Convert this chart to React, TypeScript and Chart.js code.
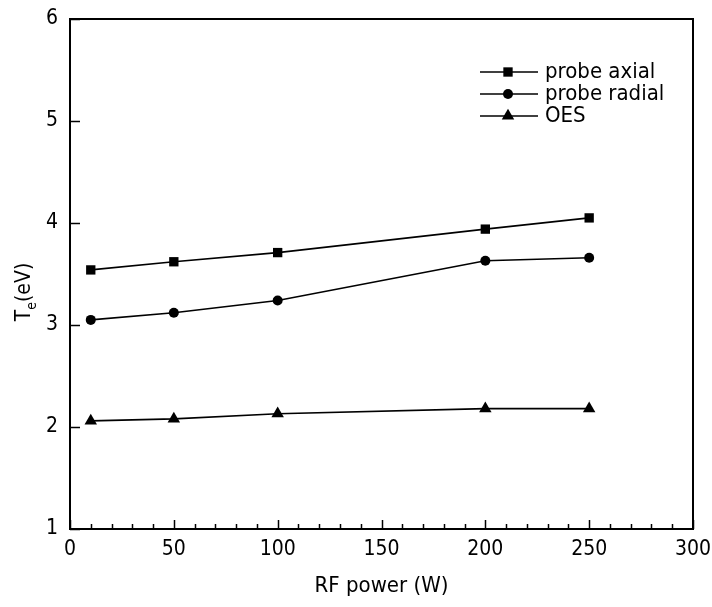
import React, { useEffect, useRef } from "react";
import { Chart, registerables } from "chart.js";

Chart.register(...registerables);

const rfPower = [10, 50, 100, 200, 250];
const probeAxial = [3.54, 3.62, 3.71, 3.94, 4.05];
const probeRadial = [3.05, 3.12, 3.24, 3.63, 3.66];
const oes = [2.06, 2.08, 2.13, 2.18, 2.18];
const seriesNames = ["probe axial", "probe radial", "OES"];
const xTitle = "RF power (W)";
const yTitleMain = "T";
const yTitleSub = "e";
const yTitleRest = "(eV)";

const FONT = "'DejaVu Sans Condensed', 'DejaVu Sans', sans-serif";

function drawMarker(ctx: CanvasRenderingContext2D, style: string, r: number, x: number, y: number) {
  ctx.beginPath();
  if (style === "rect") {
    const s = Math.SQRT1_2 * r;
    ctx.rect(x - s, y - s, 2 * s, 2 * s);
  } else if (style === "circle") {
    ctx.arc(x, y, r, 0, Math.PI * 2);
  } else {
    const h = r * 0.5;
    ctx.moveTo(x, y - r);
    ctx.lineTo(x + r * Math.sin(Math.PI * 2 / 3), y + h);
    ctx.lineTo(x - r * Math.sin(Math.PI * 2 / 3), y + h);
    ctx.closePath();
  }
  ctx.fill();
}

const frameTicks = {
  id: "frameTicks",
  afterDraw(chart: any) {
    const { ctx, chartArea: a, scales } = chart;
    const xs = scales.x;
    const ys = scales.y;
    ctx.save();
    ctx.strokeStyle = "#000";
    ctx.lineWidth = 2;
    ctx.strokeRect(a.left, a.top, a.right - a.left, a.bottom - a.top);
    ctx.lineWidth = 1.5;
    for (let v = xs.min; v <= xs.max; v += 10) {
      const px = Math.round(xs.getPixelForValue(v)) + 0.5;
      const len = v % 50 === 0 ? 9 : 5;
      ctx.beginPath();
      ctx.moveTo(px, a.bottom);
      ctx.lineTo(px, a.bottom - len);
      ctx.stroke();
    }
    for (let v = ys.min; v <= ys.max; v += 1) {
      const py = Math.round(ys.getPixelForValue(v)) + 0.5;
      ctx.beginPath();
      ctx.moveTo(a.left, py);
      ctx.lineTo(a.left + 10, py);
      ctx.stroke();
    }
    // legend
    const rows = [72, 94, 116];
    chart.data.datasets.forEach((ds: any, i: number) => {
      const y = rows[i];
      ctx.strokeStyle = "#000";
      ctx.lineWidth = 1.5;
      ctx.beginPath();
      ctx.moveTo(480, y);
      ctx.lineTo(538, y);
      ctx.stroke();
      ctx.fillStyle = "#000";
      drawMarker(ctx, ds.pointStyle, ds.pointRadius, 508, y);
      ctx.font = `22px ${FONT}`;
      ctx.textBaseline = "middle";
      ctx.textAlign = "left";
      ctx.fillText(ds.label, 545, y);
    });
    // y title with subscript
    ctx.translate(25, 292);
    ctx.rotate(-Math.PI / 2);
    ctx.fillStyle = "#000";
    ctx.textBaseline = "middle";
    ctx.textAlign = "left";
    ctx.font = `21px ${FONT}`;
    const wT = ctx.measureText(yTitleMain).width;
    ctx.font = `14px ${FONT}`;
    const wS = ctx.measureText(yTitleSub).width;
    ctx.font = `21px ${FONT}`;
    const wR = ctx.measureText(yTitleRest).width;
    let x0 = -(wT + wS + wR) / 2;
    ctx.fillText(yTitleMain, x0, 0);
    x0 += wT;
    ctx.font = `14px ${FONT}`;
    ctx.fillText(yTitleSub, x0, 7);
    x0 += wS;
    ctx.font = `21px ${FONT}`;
    ctx.fillText(yTitleRest, x0, 0);
    ctx.restore();
  },
};

export default function App() {
  const ref = useRef<HTMLCanvasElement | null>(null);
  useEffect(() => {
    document.body.style.margin = "0";
    const canvas = ref.current!;
    const mk = (label: string, data: number[], style: string, r: number) => ({
      label,
      data: rfPower.map((x, i) => ({ x, y: data[i] })),
      borderColor: "#000",
      backgroundColor: "#000",
      borderWidth: 1.6,
      pointStyle: style,
      pointRadius: r,
      pointBorderWidth: 0,
      pointBackgroundColor: "#000",
      tension: 0,
    });
    const noPad = (s: any) => {
      s.paddingLeft = 0;
      s.paddingRight = 0;
      s.paddingTop = 0;
      s.paddingBottom = 0;
    };
    const chart = new Chart(canvas, {
      type: "line",
      data: {
        datasets: [
          mk(seriesNames[0], probeAxial, "rect", 6.6),
          mk(seriesNames[1], probeRadial, "circle", 5),
          mk(seriesNames[2], oes, "triangle", 7.2),
        ],
      },
      options: {
        animation: false,
        responsive: false,
        maintainAspectRatio: false,
        layout: { padding: { left: 0, top: 19, right: 19, bottom: 0 } },
        plugins: { legend: { display: false }, tooltip: { enabled: false } },
        scales: {
          x: {
            type: "linear",
            min: 0,
            max: 300,
            ticks: { stepSize: 50, color: "#000", font: { family: FONT, size: 21 }, padding: 8, maxRotation: 0 },
            grid: { display: false, drawTicks: false },
            border: { display: false },
            title: { display: true, text: xTitle, color: "#000", font: { family: FONT, size: 22 }, padding: { top: 0, bottom: 8 } },
            afterFit(s: any) { s.height = 78; noPad(s); },
          },
          y: {
            type: "linear",
            min: 1,
            max: 6,
            ticks: { stepSize: 1, color: "#000", font: { family: FONT, size: 21 }, padding: 12 },
            grid: { display: false, drawTicks: false },
            border: { display: false },
            title: { display: false },
            afterFit(s: any) { s.width = 70; noPad(s); },
          },
        },
      },
      plugins: [frameTicks],
    } as any);
    return () => chart.destroy();
  }, []);
  return <canvas ref={ref} width={712} height={607} style={{ display: "block" }} />;
}
